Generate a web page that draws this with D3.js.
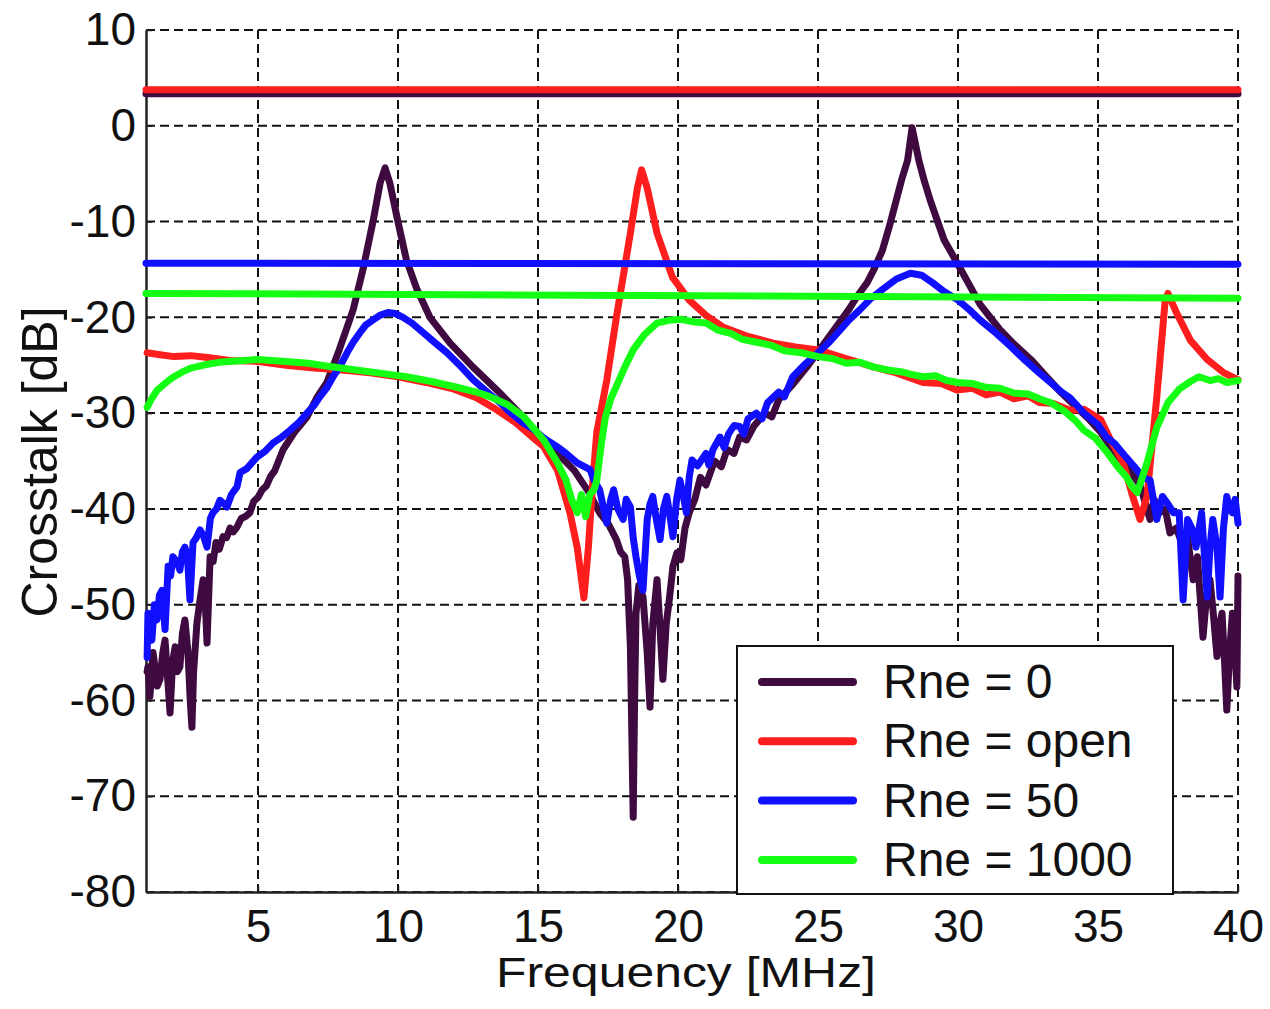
<!DOCTYPE html>
<html>
<head>
<meta charset="utf-8">
<script src="https://cdn.jsdelivr.net/npm/d3@7"></script>
<style>
  body { margin: 0; background: #fff; }
  svg { display: block; font-family: "Liberation Sans", Arial, sans-serif; }
</style>
</head>
<body>
<div id="chart"></div>
<script>
// series names, in drawing order
const seriesNames = ["Rne = 0", "Rne = open", "Rne = 50", "Rne = 1000"];
const seriesColors = ["#3e0a40", "#ff1e1e", "#1010ff", "#14ff14"];

// flat levels per series [dB at 1 MHz, dB at 40 MHz]
const levelStart = [3.35, 3.75, -14.35, -17.5];
const levelEnd = [3.35, 3.75, -14.45, -18.0];

const xTicks = [5, 10, 15, 20, 25, 30, 35, 40];
const yTicks = [10, 0, -10, -20, -30, -40, -50, -60, -70, -80];

// measured curves, [frequency MHz, crosstalk dB]
const rne0 = [[1.04,-57],[1.07,-56.5],[1.14,-59.6],[1.25,-55],[1.32,-56.5],[1.4,-58.5],[1.5,-57.8],[1.6,-55],[1.68,-53.7],[1.78,-58],[1.86,-61.3],[1.95,-56],[2.04,-54.4],[2.12,-57],[2.21,-56.5],[2.3,-53],[2.39,-51.6],[2.5,-55],[2.58,-60],[2.64,-62.8],[2.7,-57],[2.82,-51.9],[2.93,-49.5],[3.04,-47.4],[3.12,-50],[3.18,-54],[3.24,-49],[3.29,-45],[3.4,-45.5],[3.5,-43.5],[3.62,-44.2],[3.75,-42.9],[3.88,-43],[4.0,-42],[4.12,-42.4],[4.25,-41.9],[4.4,-41],[4.55,-40.8],[4.71,-40.4],[4.85,-39.2],[5.0,-38.8],[5.15,-38],[5.3,-37.6],[5.45,-36.6],[5.6,-36],[5.9,-33.8],[6.3,-32],[6.75,-30.4],[7.1,-28.4],[7.46,-26.8],[7.9,-23.4],[8.4,-19.2],[8.75,-15],[9.1,-10.1],[9.36,-6],[9.54,-4.4],[9.71,-6],[9.96,-9.5],[10.3,-14],[10.68,-17.1],[11.14,-20],[11.86,-22.7],[12.68,-25.2],[13.64,-27.9],[14.46,-30.4],[14.96,-32.1],[15.4,-33.2],[15.8,-34.5],[16.3,-36],[16.8,-38.2],[17.2,-40.4],[17.5,-41.5],[17.8,-43.2],[17.95,-44.5],[18.1,-45],[18.2,-47.4],[18.3,-54.4],[18.4,-72.2],[18.45,-60],[18.5,-50.9],[18.6,-48],[18.75,-49.2],[18.9,-55],[19.0,-60.7],[19.1,-52],[19.25,-47.4],[19.35,-52],[19.46,-57.8],[19.58,-52],[19.7,-49.2],[19.82,-46],[19.96,-44.6],[20.1,-45.3],[20.25,-42],[20.4,-40.4],[20.6,-39],[20.8,-36.7],[21.0,-37.5],[21.3,-35],[21.55,-35.6],[21.75,-33.8],[22.0,-34.2],[22.2,-32.5],[22.45,-32.8],[22.7,-31.4],[23.1,-30],[23.35,-30.4],[23.6,-28.6],[24.1,-27],[24.6,-25.2],[25.0,-23.6],[25.4,-22],[25.75,-20.6],[26.1,-19.2],[26.4,-17.8],[26.75,-16.4],[27.0,-15],[27.3,-13],[27.55,-10.5],[27.8,-7.7],[28.0,-5.5],[28.2,-3.6],[28.36,-0.2],[28.6,-3.6],[28.8,-5.8],[29.0,-7.7],[29.5,-11.9],[30.1,-15],[30.8,-18.7],[31.5,-21.3],[32.0,-22.8],[32.6,-24.4],[33.1,-26],[33.6,-27.6],[34.2,-29.3],[34.7,-30.7],[35.1,-32],[35.4,-33.3],[35.8,-34.8],[36.1,-35.9],[36.5,-37.5],[36.86,-41.1],[37.0,-39],[37.2,-40.4],[37.4,-40],[37.57,-42.5],[37.8,-42],[38.04,-44],[38.2,-43],[38.4,-47.4],[38.55,-45],[38.75,-53.4],[38.88,-49],[39.0,-47.4],[39.12,-51],[39.25,-55.4],[39.35,-52],[39.43,-50.9],[39.52,-56],[39.6,-61],[39.7,-55],[39.8,-50.9],[39.88,-54],[39.96,-58.6],[40.0,-47]];

const rneOpen = [[1.04,-23.7],[1.5,-23.9],[2.0,-24.1],[2.6,-24.0],[3.2,-24.2],[4.0,-24.5],[4.96,-24.6],[6.0,-25.0],[7.0,-25.3],[8.0,-25.5],[9.0,-25.8],[10.0,-26.2],[11.0,-26.8],[12.0,-27.5],[12.8,-28.4],[13.5,-29.6],[14.2,-31],[14.8,-32.5],[15.2,-33.5],[15.7,-36],[16.14,-40.4],[16.4,-44],[16.64,-49.3],[16.8,-44],[16.96,-37],[17.1,-32],[17.46,-26.5],[17.8,-20],[18.3,-11.2],[18.55,-6.5],[18.7,-4.6],[18.9,-6.5],[19.25,-11.2],[19.8,-15.8],[20.4,-18.2],[21.0,-19.8],[21.6,-21],[22.5,-22],[23.4,-22.7],[24.2,-23.1],[25.0,-23.4],[26.0,-24.3],[27.0,-25.2],[27.8,-25.8],[28.75,-26.8],[29.4,-26.9],[29.96,-27.6],[30.5,-27.4],[31.0,-28.1],[31.5,-27.8],[32.0,-28.5],[32.5,-28.2],[32.9,-28.9],[33.4,-29.0],[34.0,-29.7],[34.5,-29.6],[35.1,-30.7],[35.4,-32.5],[35.9,-35.2],[36.2,-38.3],[36.5,-41.1],[36.75,-38.7],[37.1,-28.3],[37.4,-18.2],[37.5,-17.5],[37.8,-19.5],[38.3,-22.4],[38.9,-24.4],[39.5,-25.8],[40.0,-26.5]];

const rne50 = [[1.04,-55.5],[1.07,-50.9],[1.14,-53],[1.21,-53.7],[1.3,-50],[1.39,-51.6],[1.48,-49],[1.57,-48.5],[1.68,-52.6],[1.79,-46],[1.88,-47],[1.96,-45],[2.1,-45.5],[2.21,-46.4],[2.3,-44.5],[2.39,-44],[2.48,-45],[2.57,-49.5],[2.68,-43.5],[2.8,-43],[2.93,-42.2],[3.05,-42.8],[3.18,-44],[3.3,-41],[3.39,-40.4],[3.52,-40],[3.64,-39.1],[3.76,-39.4],[3.89,-39.8],[4.05,-38.5],[4.25,-37.7],[4.36,-36.2],[4.6,-35.8],[4.96,-34.6],[5.25,-34],[5.54,-33.1],[5.85,-32.5],[6.14,-31.8],[6.45,-31],[6.75,-30],[7.0,-29.2],[7.21,-28.3],[7.45,-27.4],[7.68,-26.2],[7.95,-25],[8.18,-23.7],[8.4,-22.6],[8.64,-21.6],[8.85,-20.8],[9.1,-20.3],[9.35,-19.8],[9.64,-19.5],[9.9,-19.6],[10.18,-20],[10.5,-20.6],[10.9,-21.6],[11.3,-22.6],[11.75,-23.7],[12.2,-25],[12.68,-26.5],[13.15,-27.7],[13.64,-28.9],[14.0,-29.9],[14.46,-31],[14.8,-31.6],[15.2,-32.6],[15.68,-33.5],[16.0,-34.2],[16.4,-35.2],[16.86,-35.9],[17.0,-37],[17.2,-38],[17.46,-41.5],[17.6,-39],[17.7,-38],[17.85,-40],[18.04,-41.1],[18.15,-39],[18.3,-39.8],[18.4,-43],[18.5,-45],[18.62,-47],[18.75,-48.5],[18.9,-41.1],[19.0,-39.5],[19.1,-38.7],[19.22,-41],[19.36,-43.2],[19.48,-40],[19.6,-38.7],[19.7,-40.5],[19.82,-42.9],[19.95,-39],[20.07,-37],[20.18,-38.5],[20.3,-40.4],[20.4,-36.7],[20.5,-34.9],[20.7,-35.5],[21.0,-34.2],[21.1,-35.4],[21.25,-33.8],[21.5,-32.5],[21.65,-33.6],[21.8,-32.2],[22.0,-31.3],[22.2,-31.4],[22.35,-32.2],[22.5,-30.6],[22.8,-30],[23.0,-30.6],[23.2,-28.9],[23.6,-27.8],[23.8,-28.3],[24.1,-26.2],[24.5,-25],[25.0,-23.7],[25.4,-22.6],[25.8,-21.3],[26.1,-20.3],[26.5,-19.2],[26.9,-18],[27.3,-17.1],[27.8,-16],[28.3,-15.4],[28.7,-15.6],[29.1,-16.4],[29.5,-17.3],[30.0,-18.2],[30.4,-19.2],[30.8,-20.3],[31.3,-21.5],[31.9,-23.1],[32.4,-24.5],[32.9,-25.8],[33.3,-26.8],[33.7,-27.8],[34.0,-28.4],[34.5,-30],[35.0,-31.2],[35.3,-32.5],[35.6,-33.2],[36.0,-34.6],[36.3,-35.6],[36.6,-36.7],[36.86,-37],[37.1,-41.1],[37.3,-38.7],[37.5,-39.5],[37.7,-40.4],[37.9,-40.4],[38.04,-49.5],[38.2,-41.1],[38.35,-42],[38.5,-44],[38.7,-40.4],[38.9,-49.2],[39.0,-44],[39.1,-41.1],[39.25,-44],[39.36,-49.2],[39.48,-42],[39.6,-38.7],[39.7,-40],[39.8,-40.4],[39.9,-39],[40.0,-41.5]];

const rne1000 = [[1.04,-29.4],[1.2,-28.5],[1.4,-27.6],[1.6,-27.1],[1.8,-26.6],[2.0,-26.2],[2.3,-25.7],[2.6,-25.3],[2.9,-25.1],[3.2,-24.9],[3.6,-24.7],[4.0,-24.6],[4.5,-24.5],[5.0,-24.4],[5.5,-24.5],[6.0,-24.6],[6.8,-24.8],[7.5,-25.1],[8.5,-25.5],[9.3,-25.8],[10.3,-26.2],[11.2,-26.7],[12.1,-27.3],[12.8,-27.8],[13.3,-28.3],[13.9,-29.1],[14.5,-30.4],[15.2,-32.8],[15.7,-35.2],[16.0,-37],[16.2,-39],[16.4,-40.4],[16.55,-38.5],[16.7,-40.8],[16.85,-38.5],[17.0,-38],[17.1,-37],[17.25,-33.5],[17.4,-30.5],[17.6,-28.5],[17.8,-27.2],[18.1,-25.2],[18.4,-23.4],[18.8,-21.8],[19.25,-20.6],[19.7,-20.3],[20.1,-20.2],[20.6,-20.5],[21.0,-20.6],[21.4,-21.3],[21.9,-21.7],[22.3,-22.3],[22.8,-22.6],[23.3,-22.9],[23.8,-23.5],[24.4,-23.7],[25.0,-24.1],[25.5,-24.3],[26.0,-24.8],[26.5,-24.7],[27.0,-25.2],[27.5,-25.5],[28.0,-25.7],[28.4,-26],[28.75,-26.2],[29.2,-26.1],[29.6,-26.6],[30.0,-26.8],[30.5,-26.9],[31.0,-27.3],[31.5,-27.4],[32.0,-27.9],[32.5,-28],[33.0,-28.6],[33.3,-28.9],[33.8,-29.8],[34.2,-30.8],[34.5,-31.8],[34.9,-32.6],[35.3,-34],[35.7,-35.6],[36.0,-36.6],[36.2,-37.6],[36.4,-38.3],[36.55,-37],[36.75,-35.2],[37.1,-31.5],[37.5,-28.9],[37.9,-27.5],[38.3,-26.7],[38.6,-26.2],[39.0,-26.6],[39.3,-26.4],[39.6,-26.8],[40.0,-26.6]];

const curves = [rne0, rneOpen, rne50, rne1000];

const W = 1270, H = 1009;
const x = d3.scaleLinear().domain([1, 40]).range([146, 1238]);
const y = d3.scaleLinear().domain([-80, 10]).range([892, 30]);

const svg = d3.select("#chart").append("svg")
  .attr("width", W).attr("height", H)
  .style("background", "#fff");

// dashed grid
const grid = svg.append("g").attr("class", "grid")
  .attr("stroke", "#111").attr("stroke-width", 2).attr("stroke-dasharray", "9,5");
grid.selectAll(".gx").data(xTicks).enter().append("line")
  .attr("x1", d => x(d)).attr("x2", d => x(d))
  .attr("y1", y(10)).attr("y2", y(-80));
grid.selectAll(".gy").data(yTicks).enter().append("line")
  .attr("x1", x(1)).attr("x2", x(40))
  .attr("y1", d => y(d)).attr("y2", d => y(d));

// axes (solid left and bottom, small inward ticks)
const xAxis = svg.append("g")
  .attr("transform", `translate(0,${y(-80)})`)
  .call(d3.axisBottom(x).tickValues(xTicks).tickFormat(d => String(d))
    .tickSize(-6).tickSizeOuter(0).tickPadding(17));
const yAxis = svg.append("g")
  .attr("transform", `translate(${x(1)},0)`)
  .call(d3.axisLeft(y).tickValues(yTicks).tickFormat(d => String(d))
    .tickSize(-6).tickSizeOuter(0).tickPadding(10));
[xAxis, yAxis].forEach(a => {
  a.select(".domain").attr("stroke", "#222").attr("stroke-width", 2.5);
  a.selectAll(".tick line").attr("stroke", "#222").attr("stroke-width", 1.5);
  a.selectAll("text").attr("fill", "#111")
    .style("font-size", "46px").style("font-family", '"Liberation Sans", Arial, sans-serif');
});

// curves and flat levels
const line = d3.line().x(d => x(d[0])).y(d => y(d[1]));
curves.forEach((c, i) => {
  svg.append("path")
    .datum(c)
    .attr("d", line)
    .attr("fill", "none")
    .attr("stroke", seriesColors[i])
    .attr("stroke-width", 7)
    .attr("stroke-linejoin", "round")
    .attr("stroke-linecap", "round");
  svg.append("path")
    .datum([[1, levelStart[i]], [40, levelEnd[i]]])
    .attr("d", line)
    .attr("fill", "none")
    .attr("stroke", seriesColors[i])
    .attr("stroke-width", 7)
    .attr("stroke-linecap", "round");
});

// legend
const legend = svg.append("g").attr("class", "legend");
legend.append("rect")
  .attr("x", 737).attr("y", 646).attr("width", 436).attr("height", 248)
  .attr("fill", "#fff").attr("stroke", "#111").attr("stroke-width", 2);
const rows = legend.selectAll(".row").data(seriesNames).enter().append("g")
  .attr("transform", (d, i) => `translate(0,${682 + i * 59.3})`);
rows.append("line")
  .attr("x1", 762).attr("x2", 853)
  .attr("stroke", (d, i) => seriesColors[i])
  .attr("stroke-width", 8).attr("stroke-linecap", "round");
rows.append("text")
  .attr("x", 883).attr("y", 16)
  .attr("fill", "#111")
  .style("font-size", "48px")
  .text(d => d);

// axis titles
svg.append("text")
  .attr("x", 686).attr("y", 987)
  .attr("text-anchor", "middle")
  .attr("fill", "#111")
  .attr("textLength", 380)
  .attr("lengthAdjust", "spacingAndGlyphs")
  .style("font-size", "42px")
  .text("Frequency [MHz]");
svg.append("text")
  .attr("transform", "translate(57,462) rotate(-90)")
  .attr("text-anchor", "middle")
  .attr("fill", "#111")
  .style("font-size", "50px")
  .text("Crosstalk [dB]");
</script>
</body>
</html>
